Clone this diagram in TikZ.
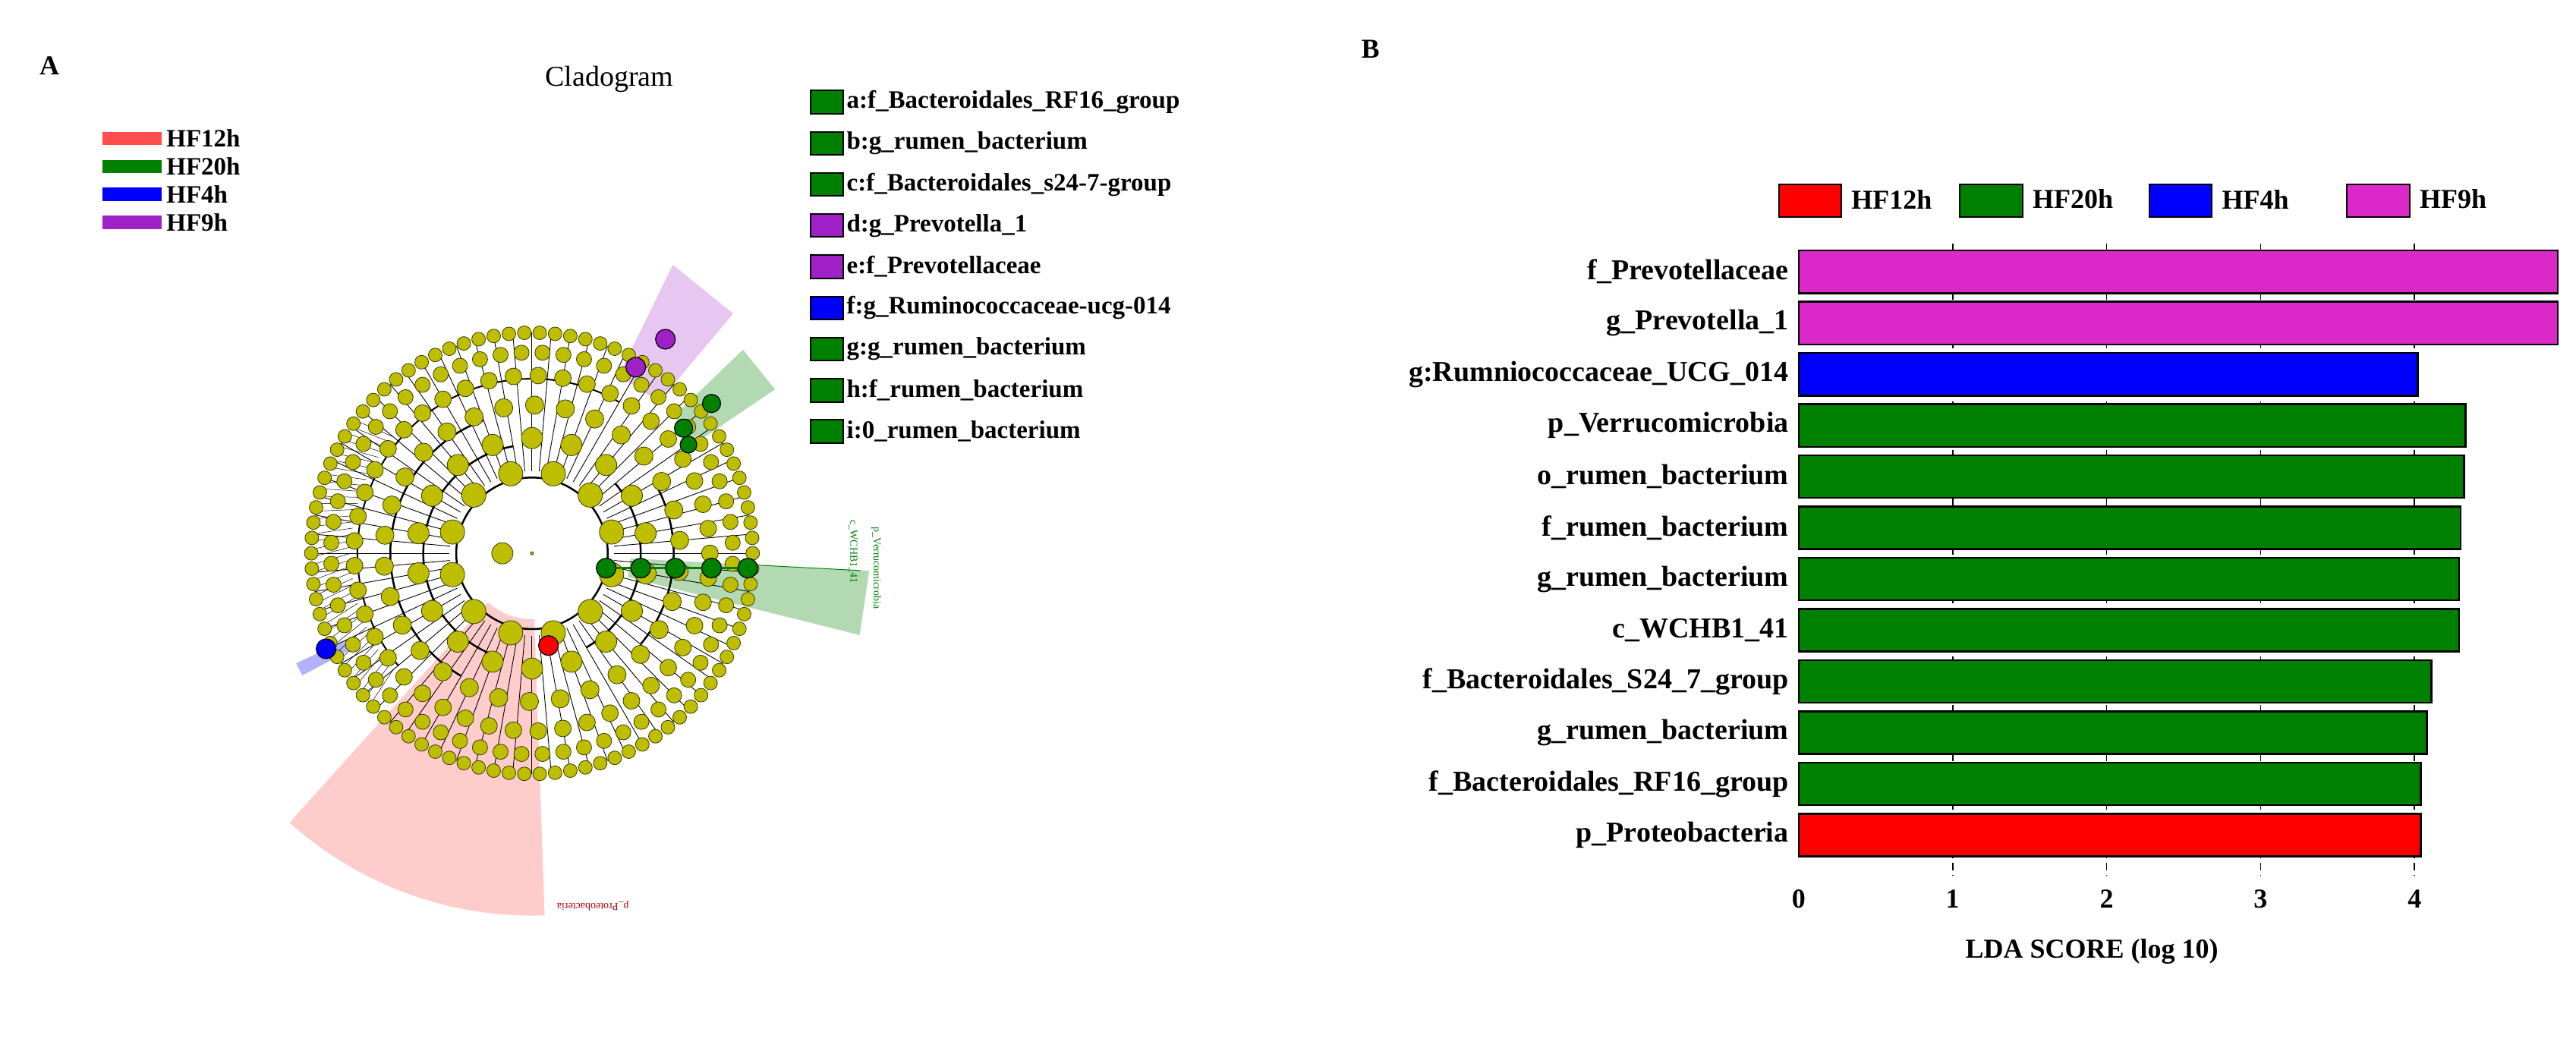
\documentclass[tikz,border=0pt]{standalone}
\usepackage{fontspec}
\setmainfont{Liberation Serif}
\begin{document}
\definecolor{gr}{RGB}{0,128,0}
\definecolor{pu}{RGB}{160,32,200}
\definecolor{ma}{RGB}{220,40,200}
\definecolor{ye}{RGB}{190,190,0}
\begin{tikzpicture}[x=2.17pt,y=-2.17pt,
  lab/.style={font=\fontsize{38}{40}\selectfont\bfseries,anchor=east,inner sep=0},
  bar/.style={draw=black,line width=2.5pt},
  leg/.style={font=\fontsize{33}{35}\selectfont\bfseries,anchor=west,inner sep=0},
  lbox/.style={draw=black,line width=2pt},
  yn/.style={fill=ye,draw=black!70!ye,line width=0.8pt},
  cn/.style={draw=black,line width=1.2pt}]
\useasboundingbox (0,0) rectangle (1564,638);
\node[font=\fontsize{36}{38}\selectfont\bfseries] (A) at (30,40) {A};
\node[font=\fontsize{36}{38}\selectfont\bfseries] (B) at (832,30) {B};
\node[font=\fontsize{38}{40}\selectfont] (title) at (370,48) {Cladogram};
% left legend
\foreach \c/\t [count=\i] in {red!70/HF12h,gr/HF20h,blue/HF4h,pu/HF9h}{
  \fill[\c] (62,{63+17*\i}) rectangle (98,{71+17*\i});
  \node[leg] (l\i) at (101,{67+17*\i}) {\t};}
% right legend
\foreach \c/\t [count=\i] in {gr/a:f\_Bacteroidales\_RF16\_group,gr/b:g\_rumen\_bacterium,gr/c:f\_Bacteroidales\_s24-7-group,pu/d:g\_Prevotella\_1,pu/e:f\_Prevotellaceae,blue/f:g\_Ruminococcaceae-ucg-014,gr/g:g\_rumen\_bacterium,gr/h:f\_rumen\_bacterium,gr/i:0\_rumen\_bacterium}{
  \draw[lbox,fill=\c] (492,{37+25*\i-7}) rectangle (512,{37+25*\i+7});
  \node[leg] (r\i) at (514,{37+25*\i}) {\t};}
% cladogram
\begin{scope}[shift={(323,336)},yscale=-1]
\fill[red!20] (-132:40) -- (-132:220) arc[start angle=-132,end angle=-88,radius=220] -- (-88:40) arc[start angle=-88,end angle=-132,radius=40] -- cycle;
\fill[gr!30] (-14:60) -- (-14:205) -- (-3:205) -- (-3:60) -- cycle;
\fill[pu!25] (50:120) -- (50:190) -- (64:195) -- (64:120) -- cycle;
\fill[gr!30] (34:120) -- (34:178) -- (44:178) -- (44:120) -- cycle;
\fill[blue!30] (-155:125) -- (-155:158) -- (-152:158) -- (-152:125) -- cycle;
\draw[gr,line width=1pt] (-3:130) -- (-3:200);
\draw[line width=2.5pt] (0,0) circle[radius=46];
\draw[line width=2.5pt] (100:66) arc[start angle=100,end angle=250,radius=66];
\draw[line width=2.5pt] (-60:66) arc[start angle=-60,end angle=40,radius=66];
\draw[line width=2.5pt] (110:86) arc[start angle=110,end angle=240,radius=86];
\draw[line width=2.5pt] (-40:86) arc[start angle=-40,end angle=30,radius=86];
\draw[line width=2pt] (60:106) arc[start angle=60,end angle=220,radius=106];
\foreach \a in {0,5,...,355}{\draw[line width=0.9pt] (\a:50) -- (\a:134);}
\foreach \a in {140,142,...,220}{\draw[line width=0.5pt] (\a:110) -- (\a+3:134);}
\foreach \a in {15,45,...,345}{\fill[yn] (\a:50) circle[radius=16pt];}
\foreach \a in {10,30,...,350}{\fill[yn] (\a:70) circle[radius=14pt];}
\foreach \a in {5,17,...,355}{\fill[yn] (\a:90) circle[radius=12pt];}
\foreach \a in {0,8,...,352}{\fill[yn] (\a:108) circle[radius=11pt];}
\foreach \a in {3,9,...,357}{\fill[yn] (\a:122) circle[radius=10pt];}
\foreach \a in {0,4,...,356}{\fill[yn] (\a:134) circle[radius=9pt];}
\fill[yn] (0,0) circle[radius=2pt];
\fill[yn] (-18,0) circle[radius=14pt];
\draw[gr,line width=3pt] (45,-9) -- (131,-9);
\foreach \x in {45,66,87,109,131}{\fill[cn,fill=gr] (\x,-9) circle[radius=13pt];}
\fill[cn,fill=gr] (109,91) circle[radius=12pt];
\fill[cn,fill=gr] (92,76) circle[radius=12pt];
\fill[cn,fill=gr] (95,66) circle[radius=11pt];
\fill[cn,fill=pu] (81,130) circle[radius=13pt];
\fill[cn,fill=pu] (63,113) circle[radius=13pt];
\fill[cn,fill=red] (10,-56) circle[radius=13pt];
\fill[cn,fill=blue] (-125,-58) circle[radius=13pt];
\end{scope}
\node[font=\fontsize{14}{14}\selectfont,text=red!70!black,rotate=180] (pl) at (360,550) {p\_Proteobacteria};
\node[font=\fontsize{14}{14}\selectfont,text=gr,rotate=-90] (vl) at (532,345) {p\_Verrucomicrobia};
\node[font=\fontsize{14}{14}\selectfont,text=gr,rotate=-90] (wl) at (518,335) {c\_WCHB1\_41};
% B legend
\foreach \c/\t/\x in {red/HF12h/1080,gr/HF20h/1190,blue/HF4h/1305,ma/HF9h/1425}{
  \draw[lbox,fill=\c] (\x,112) rectangle (\x+38,132);
  \node[leg,font=\fontsize{36}{38}\selectfont\bfseries] at (\x+44,121) {\t};}
% grid
\foreach \v in {1,2,3,4}{\draw[dashed,line width=1.8pt,dash pattern=on 10pt off 6pt] ({1092+93.5*\v},148) -- ({1092+93.5*\v},532);}
% bars
\foreach \t/\v/\c [count=\i from 0] in {f\_Prevotellaceae/4.93/ma,g\_Prevotella\_1/4.93/ma,g:Rumniococcaceae\_UCG\_014/4.02/blue,p\_Verrucomicrobia/4.33/gr,o\_rumen\_bacterium/4.32/gr,f\_rumen\_bacterium/4.30/gr,g\_rumen\_bacterium/4.29/gr,c\_WCHB1\_41/4.29/gr,f\_Bacteroidales\_S24\_7\_group/4.11/gr,g\_rumen\_bacterium/4.08/gr,f\_Bacteroidales\_RF16\_group/4.04/gr,p\_Proteobacteria/4.04/red}{
  \draw[bar,fill=\c] (1092,{152+31.1*\i}) rectangle ({1092+93.5*\v},{178+31.1*\i});
  \node[lab] (b\i) at (1086,{165+31.1*\i}) {\t};}
\foreach \v in {0,1,2,3,4}{\node[font=\fontsize{36}{38}\selectfont\bfseries] (t\v) at ({1092+93.5*\v},546) {\v};}
\node[font=\fontsize{36}{38}\selectfont\bfseries] (xl) at (1270,578) {LDA SCORE (log 10)};
\end{tikzpicture}
\end{document}
